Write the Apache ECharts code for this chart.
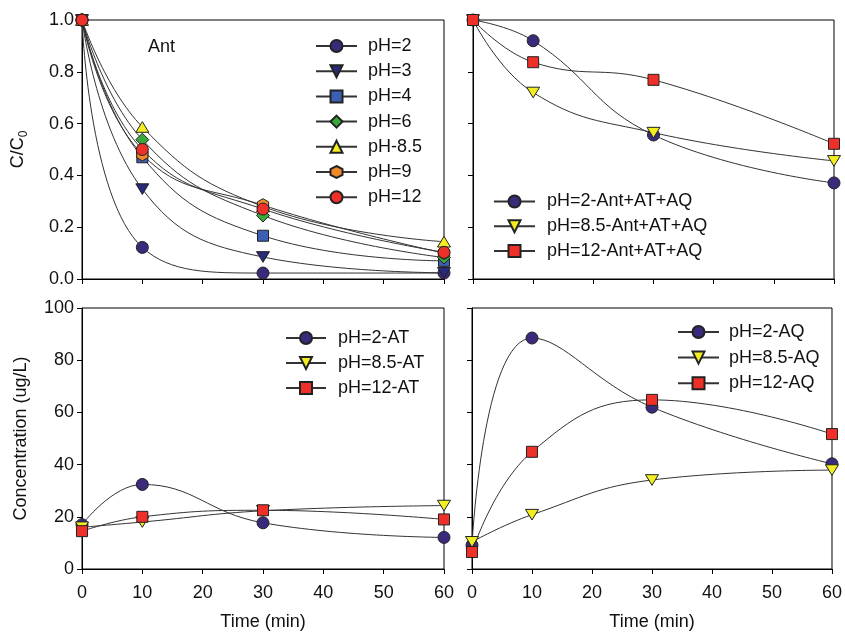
<!DOCTYPE html>
<html>
<head>
<meta charset="utf-8">
<script src="https://cdn.jsdelivr.net/npm/echarts@6/dist/echarts.min.js"></script>
<style>
  html, body { margin: 0; padding: 0; background: #fff; }
  #chart { width: 845px; height: 633px; }
</style>
</head>
<body>
<div id="chart"></div>
<script>
// Sampling times (min), shared by every panel
const times = [0, 10, 30, 60];

// Panel (a): Ant, C/C0 at different pH
const antPH2  = [1.0, 0.122, 0.023, 0.023];
const antPH3  = [1.0, 0.347, 0.085, 0.024];
const antPH4  = [1.0, 0.470, 0.167, 0.070];
const antPH6  = [1.0, 0.538, 0.245, 0.083];
const antPH85 = [1.0, 0.587, 0.280, 0.144];
const antPH9  = [1.0, 0.481, 0.285, 0.100];
const antPH12 = [1.0, 0.500, 0.270, 0.103];

// Panel (b): Ant+AT+AQ, C/C0
const mixPH2  = [1.0, 0.920, 0.556, 0.371];
const mixPH85 = [1.0, 0.720, 0.565, 0.456];
const mixPH12 = [1.0, 0.837, 0.769, 0.522];

// Panel (c): AT concentration (ug/L)
const atPH2  = [17.0, 32.4, 17.7, 12.1];
const atPH85 = [16.0, 18.0, 22.3, 24.3];
const atPH12 = [14.5, 20.0, 22.5, 19.0];

// Panel (d): AQ concentration (ug/L)
const aqPH2  = [9.1, 88.5, 62.0, 40.3];
const aqPH85 = [10.4, 20.8, 34.1, 37.9];
const aqPH12 = [6.5, 44.9, 64.8, 51.7];

const FONT = 'Liberation Sans, Arial, sans-serif';
const INK = '#111';

const SYM = {
  circle: 'circle',
  tdown: 'path://M0,0 L100,0 L50,82 Z',
  tup: 'path://M50,0 L100,82 L0,82 Z',
  square: 'rect',
  diamond: 'diamond',
  hexagon: 'path://M50,0 L93.3,25 L93.3,75 L50,100 L6.7,75 L6.7,25 Z'
};

const C = {
  purple: '#3b2a7c',
  navy: '#2a2a7a',
  blue: '#3a5fb3',
  green: '#38a93a',
  yellow: '#f2ee22',
  orange: '#f08a28',
  red: '#ee3028'
};

function mk(name, vals, idx, symbol, color, size) {
  return {
    name: name,
    type: 'line',
    xAxisIndex: idx,
    yAxisIndex: idx,
    data: times.map((t, i) => [t, vals[i]]),
    smooth: 0.45,
    clip: false,
    symbol: SYM[symbol],
    symbolKeepAspect: true,
    symbolSize: size || 12,
    showAllSymbol: true,
    lineStyle: { color: '#333', width: 1 },
    itemStyle: { color: color, borderColor: '#222', borderWidth: 1, opacity: 1 },
    emphasis: { disabled: true }
  };
}

const grids = [
  { left: 82, top: 20, width: 362, height: 259 },
  { left: 473, top: 20, width: 361, height: 259 },
  { left: 82, top: 308, width: 362, height: 261 },
  { left: 472, top: 308, width: 362, height: 261 }
].map(g => Object.assign({ show: true, borderColor: '#000', borderWidth: 1, backgroundColor: 'transparent' }, g));

const baseLine = { show: true, lineStyle: { color: '#000', width: 1 } };
const baseTick = { show: true, inside: false, length: 5, lineStyle: { color: '#000', width: 1 } };

function xAx(idx, labels) {
  return {
    type: 'value', gridIndex: idx, min: 0, max: 60, interval: 10,
    axisLine: baseLine, axisTick: baseTick, splitLine: { show: false },
    axisLabel: { show: labels, color: INK, fontFamily: FONT, fontSize: 18, margin: 15 },
    name: labels ? 'Time (min)' : '', nameLocation: 'middle', nameGap: 44,
    nameTextStyle: { color: INK, fontFamily: FONT, fontSize: 18 }
  };
}

function yAx(idx, max, interval, labels, name, fmt) {
  return {
    type: 'value', gridIndex: idx, min: 0, max: max, interval: interval,
    axisLine: baseLine, axisTick: baseTick, splitLine: { show: false },
    axisLabel: { show: labels, color: INK, fontFamily: FONT, fontSize: 18, margin: 8, formatter: fmt },
    name: name || '', nameLocation: 'middle', nameRotate: 90, nameGap: 52,
    nameTextStyle: {
      color: INK, fontFamily: FONT, fontSize: 18,
      rich: {
        a: { fontFamily: FONT, fontSize: 18, color: INK, lineHeight: 24 },
        b: { fontFamily: FONT, fontSize: 12, color: INK, lineHeight: 12, verticalAlign: 'bottom' }
      }
    }
  };
}

function legend(names, left, top, width, gap, pad) {
  return {
    data: names,
    orient: 'vertical',
    left: left, top: top,
    padding: 0,
    itemWidth: width, itemHeight: 15, itemGap: gap,
    selectedMode: false,
    textStyle: { color: INK, fontFamily: FONT, fontSize: 18, lineHeight: 15, padding: [0, 0, 0, pad] }
  };
}

const series = [
  mk('pH=2', antPH2, 0, 'circle', C.purple, 12),
  mk('pH=3', antPH3, 0, 'tdown', C.navy, 13),
  mk('pH=4', antPH4, 0, 'square', C.blue, 11),
  mk('pH=6', antPH6, 0, 'diamond', C.green, 13),
  mk('pH-8.5', antPH85, 0, 'tup', C.yellow, 13),
  mk('pH=9', antPH9, 0, 'hexagon', C.orange, 13),
  mk('pH=12', antPH12, 0, 'circle', C.red, 12),

  mk('pH=2-Ant+AT+AQ', mixPH2, 1, 'circle', C.purple, 12),
  mk('pH=8.5-Ant+AT+AQ', mixPH85, 1, 'tdown', C.yellow, 13),
  mk('pH=12-Ant+AT+AQ', mixPH12, 1, 'square', C.red, 11),

  mk('pH=2-AT', atPH2, 2, 'circle', C.purple, 12),
  mk('pH=8.5-AT', atPH85, 2, 'tdown', C.yellow, 13),
  mk('pH=12-AT', atPH12, 2, 'square', C.red, 11),

  mk('pH=2-AQ', aqPH2, 3, 'circle', C.purple, 12),
  mk('pH=8.5-AQ', aqPH85, 3, 'tdown', C.yellow, 13),
  mk('pH=12-AQ', aqPH12, 3, 'square', C.red, 11)
];

const fmt1 = v => v.toFixed(1);

const option = {
  animation: false,
  backgroundColor: '#fff',
  grid: grids,
  xAxis: [xAx(0, false), xAx(1, false), xAx(2, true), xAx(3, true)],
  yAxis: [
    yAx(0, 1.0, 0.2, true, '{a|C/C}{b|0}', fmt1),
    yAx(1, 1.0, 0.2, false, '', fmt1),
    yAx(2, 100, 20, true, 'Concentration (ug/L)'),
    yAx(3, 100, 20, false, '')
  ],
  legend: [
    legend(['pH=2', 'pH=3', 'pH=4', 'pH=6', 'pH-8.5', 'pH=9', 'pH=12'], 315, 37, 41, 7.2, 6),
    legend(['pH=2-Ant+AT+AQ', 'pH=8.5-Ant+AT+AQ', 'pH=12-Ant+AT+AQ'], 493, 192.5, 41, 6.7, 7),
    legend(['pH=2-AT', 'pH=8.5-AT', 'pH=12-AT'], 285, 329, 40, 7, 7),
    legend(['pH=2-AQ', 'pH=8.5-AQ', 'pH=12-AQ'], 677, 323, 41, 7.6, 5)
  ],
  graphic: [
    {
      type: 'text', left: 148, top: 38,
      style: { text: 'Ant', fontFamily: FONT, fontSize: 18, fill: INK }
    }
  ],
  series: series
};

const chart = echarts.init(document.getElementById('chart'), null, { renderer: 'canvas' });
chart.setOption(option);
</script>
</body>
</html>
